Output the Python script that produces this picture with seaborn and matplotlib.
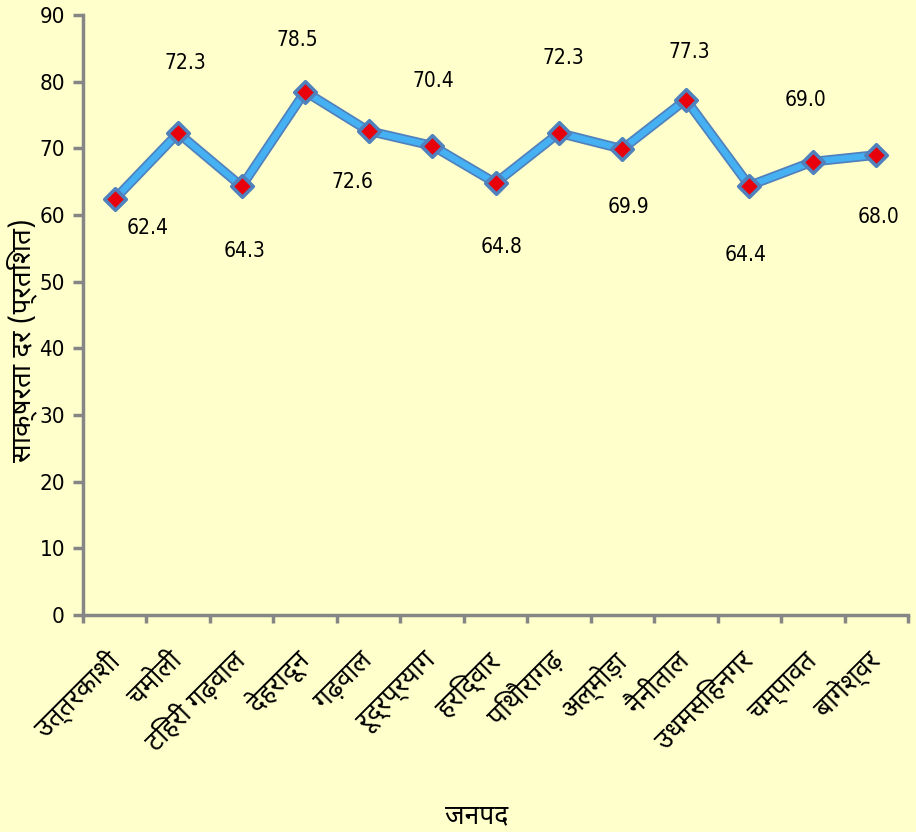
import matplotlib
matplotlib.use("Agg")
import matplotlib.pyplot as plt
import seaborn as sns
import pandas as pd
from matplotlib import font_manager as fm

districts = ["उत्तरकाशी", "चमोली", "टिहरी गढ़वाल", "देहरादून", "गढ़वाल", "रूद्रप्रयाग",
             "हरिद्वार", "पिथौरागढ़", "अल्मोड़ा", "नैनीताल", "उधमसिंहनगर", "चम्पावत", "बागेश्वर"]
literacy = [62.4, 72.3, 64.3, 78.5, 72.6, 70.4, 64.8, 72.3, 69.9, 77.3, 64.4, 68.0, 69.0]
point_labels = ["62.4", "72.3", "64.3", "78.5", "72.6", "70.4", "64.8", "72.3", "69.9", "77.3", "64.4", "69.0", "68.0"]
y_ticks = [0, 10, 20, 30, 40, 50, 60, 70, 80, 90]
x_title = "जनपद"
y_title = "साक्षरता दर (प्रतिशत)"

# label offsets in pixels (style)
label_offsets = [(33, -29), (7, 70), (3, -65), (-8, 52), (-16, -51), (1, 65), (6, -64),
                 (4, 75), (6, -58), (3, 48), (-4, -69), (-7, 62), (2, -62)]

sns.set_theme(style="white")
names = {f.name for f in fm.fontManager.ttflist}
fams = [f for f in ["Noto Sans Devanagari", "Lohit Devanagari", "Noto Sans", "DejaVu Sans"] if f in names]
plt.rcParams['font.family'] = fams
num_font = {"family": "DejaVu Sans", "stretch": "condensed"}

bg = "#FFFFCC"
fig = plt.figure(figsize=(9.16, 8.32), dpi=100, facecolor=bg)
ax = fig.add_axes([83/916, 217/832, 825/916, 600/832])
ax.set_facecolor(bg)

df = pd.DataFrame({"district": districts, "value": literacy, "pos": range(len(districts))})

sns.lineplot(data=df, x="pos", y="value", ax=ax, color="#4F81BD", linewidth=7, zorder=2)
sns.lineplot(data=df, x="pos", y="value", ax=ax, color="#45B0F2", linewidth=4.5, zorder=3)
sns.scatterplot(data=df, x="pos", y="value", ax=ax, marker="D", s=120, color="#E8000B",
                edgecolor="#4F81BD", linewidth=2.6, zorder=4)

for i, (v, lab) in enumerate(zip(literacy, point_labels)):
    dx, dy = label_offsets[i]
    ax.annotate(lab, (i, v), xytext=(dx * 0.72, dy * 0.72), textcoords="offset points",
                ha="center", va="center", fontsize=15, color="black", **num_font)

ax.set_xlim(-0.5, len(districts) - 0.5)
ax.set_ylim(0, 90)
ax.set_yticks(y_ticks)
ax.set_yticklabels([str(t) for t in y_ticks], fontsize=16, color="black", **num_font)
ax.set_xticks([i for i in range(len(districts))])
ax.set_xticklabels(districts, rotation=45, ha="right", va="center", rotation_mode="anchor",
                   fontsize=19, color="black")
ax.set_xticks([i - 0.5 for i in range(len(districts) + 1)], minor=True)
ax.tick_params(axis="x", which="major", length=0, pad=30, bottom=False)
ax.tick_params(axis="x", which="minor", length=6, width=2.5, color="#868686", direction="out", bottom=True)
ax.tick_params(axis="y", length=7, width=2.5, color="#868686", direction="out", left=True, pad=6)

for s in ["top", "right"]:
    ax.spines[s].set_visible(False)
for s in ["left", "bottom"]:
    ax.spines[s].set_color("#868686")
    ax.spines[s].set_linewidth(2.5)

ax.set_xlabel("")
ax.set_ylabel("")
fig.text(477/916, 1 - 816/832, x_title, ha="center", va="center", fontsize=19, fontweight="bold", color="black")
fig.text(22/916, 1 - 340/832, y_title, ha="center", va="center", rotation=90, fontsize=20,
         fontweight="bold", color="black")

fig.savefig("out.png", dpi=100, facecolor=bg)
